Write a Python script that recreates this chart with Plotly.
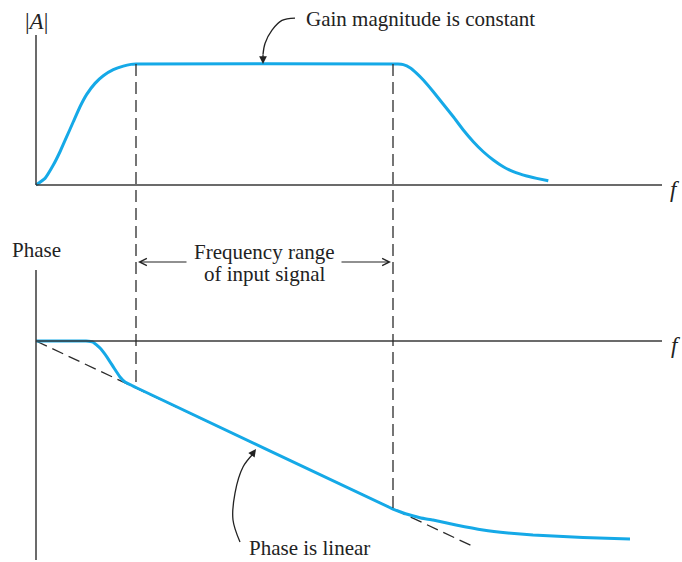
import plotly.graph_objects as go

# ---------------- data (arbitrary schematic units) ----------------
f_low = 1.0
f_high = 3.57

# magnitude response |A|
mag_f = [0.0, 0.09, 0.173, 0.24, 0.307, 0.373, 0.44, 0.507, 0.59, 0.673, 0.773, 0.873, 0.95, 1.0,
         3.62, 3.673, 3.74, 3.807, 3.873, 3.973, 4.073, 4.173, 4.273, 4.373, 4.473, 4.573,
         4.673, 4.773, 4.907, 5.007, 5.123]
mag_v = [0.0, 0.055, 0.165, 0.275, 0.399, 0.523, 0.647, 0.749, 0.840, 0.903, 0.953, 0.983, 0.997, 1.0,
         1.0, 0.995, 0.970, 0.923, 0.868, 0.771, 0.667, 0.564, 0.455, 0.358, 0.275, 0.207,
         0.151, 0.110, 0.074, 0.055, 0.035]

# phase response
ph_f = [0.0, 0.30, 0.50, 0.57, 0.64, 0.71, 0.78, 0.84, 0.89, 0.95, 1.01, 3.57, 3.66, 3.74, 3.85,
        3.97, 4.2, 4.47, 4.72, 4.97, 5.47, 5.94]
ph_v = [0.0, 0.0, 0.0, -0.01, -0.07, -0.16, -0.27, -0.36, -0.41, -0.44, -0.47, -1.68, -1.715, -1.74,
        -1.77, -1.79, -1.84, -1.89, -1.92, -1.94, -1.965, -1.98]

# ideal linear phase (dashed)
lin_f = [0.0, 4.37]
lin_slope = -0.47

# axis extents
x_range = [-0.36, 6.46]
mag_range = [-0.372, 1.529]
ph_range = [-2.21, 1.11]
top_domain = [0.5907, 1.0]
bot_domain = [0.0, 0.5907]

CURVE = "#15A9E7"
AX = "#3a3a3a"
DASH = "#2b2b2b"
TXT = "#222"
FONT = "Liberation Serif, DejaVu Serif, serif"
FS = 21


def paper_y(v, rng, dom):
    return dom[0] + (v - rng[0]) / (rng[1] - rng[0]) * (dom[1] - dom[0])


def ph_at(f):
    return lin_slope * f


fig = go.Figure()

fig.add_trace(go.Scatter(x=mag_f, y=mag_v, mode="lines", xaxis="x", yaxis="y",
                         line=dict(color=CURVE, width=3, shape="spline", smoothing=0.3),
                         hoverinfo="skip", showlegend=False))
fig.add_trace(go.Scatter(x=lin_f, y=[lin_slope * v for v in lin_f], mode="lines",
                         xaxis="x", yaxis="y2",
                         line=dict(color=DASH, width=1.3, dash="12px,6px"),
                         hoverinfo="skip", showlegend=False))
fig.add_trace(go.Scatter(x=ph_f, y=ph_v, mode="lines", xaxis="x", yaxis="y2",
                         line=dict(color=CURVE, width=3, shape="spline", smoothing=0.3),
                         hoverinfo="skip", showlegend=False))

# curved leader lines
gain_arrow_f = [2.59, 2.46, 2.36, 2.29, 2.27]
gain_arrow_m = [1.38, 1.36, 1.28, 1.17, 1.08]
fig.add_trace(go.Scatter(x=gain_arrow_f, y=gain_arrow_m, mode="lines", xaxis="x", yaxis="y",
                         line=dict(color=TXT, width=1.3, shape="spline"),
                         hoverinfo="skip", showlegend=False))
phase_arrow_f = [2.04, 1.97, 1.99, 2.07, 2.17]
phase_arrow_p = [-2.01, -1.79, -1.52, -1.26, -1.13]
fig.add_trace(go.Scatter(x=phase_arrow_f, y=phase_arrow_p, mode="lines", xaxis="x", yaxis="y2",
                         line=dict(color=TXT, width=1.3, shape="spline"),
                         hoverinfo="skip", showlegend=False))

shapes = []
shapes.append(dict(type="line", xref="x", yref="y", x0=0, x1=0, y0=0, y1=1.24,
                   line=dict(color=AX, width=1.5)))
shapes.append(dict(type="line", xref="x", yref="y", x0=0, x1=6.26, y0=0, y1=0,
                   line=dict(color=AX, width=1.5)))
shapes.append(dict(type="line", xref="x", yref="y2", x0=0, x1=0, y0=0.71, y1=-2.19,
                   line=dict(color=AX, width=1.5)))
shapes.append(dict(type="line", xref="x", yref="y2", x0=0, x1=6.26, y0=0, y1=0,
                   line=dict(color=AX, width=1.5)))
top_y = paper_y(1.0, mag_range, top_domain)
for fe in (f_low, f_high):
    shapes.append(dict(type="line", xref="x", yref="paper", x0=fe, x1=fe,
                       y0=top_y, y1=paper_y(ph_at(fe), ph_range, bot_domain),
                       line=dict(color=DASH, width=1.3, dash="12px,6px")))

annotations = []
annotations.append(dict(x=0, y=1.355, xref="x", yref="y", text="|<i>A</i>|", showarrow=False,
                        font=dict(family=FONT, size=23, color=TXT)))
annotations.append(dict(x=6.39, y=-0.035, xref="x", yref="y", text="<i>f</i>", showarrow=False,
                        font=dict(family=FONT, size=23, color=TXT)))
annotations.append(dict(x=0, y=0.91, xref="x", yref="y2", text="Phase", showarrow=False,
                        font=dict(family=FONT, size=FS, color=TXT)))
annotations.append(dict(x=6.40, y=-0.045, xref="x", yref="y2", text="<i>f</i>", showarrow=False,
                        font=dict(family=FONT, size=23, color=TXT)))
annotations.append(dict(x=2.68, y=1.37, xref="x", yref="y", text="Gain magnitude is constant",
                        showarrow=False, xanchor="left",
                        font=dict(family=FONT, size=FS, color=TXT)))
annotations.append(dict(x=2.27, y=1.0, ax=2.27, ay=1.09, xref="x", yref="y", axref="x", ayref="y",
                        text="", showarrow=True, arrowhead=2, arrowsize=1.2, arrowwidth=1.3,
                        arrowcolor=TXT))
annotations.append(dict(x=2.28, y=0.89, xref="x", yref="y2", text="Frequency range",
                        showarrow=False, font=dict(family=FONT, size=FS, color=TXT)))
annotations.append(dict(x=2.28, y=0.67, xref="x", yref="y2", text="of input signal",
                        showarrow=False, font=dict(family=FONT, size=FS, color=TXT)))
annotations.append(dict(x=f_low + 0.02, y=0.79, ax=1.52, ay=0.79, xref="x", yref="y2",
                        axref="x", ayref="y2", text="", showarrow=True, arrowhead=5,
                        arrowsize=1.3, arrowwidth=1.1, arrowcolor=TXT))
annotations.append(dict(x=f_high - 0.02, y=0.79, ax=3.04, ay=0.79, xref="x", yref="y2",
                        axref="x", ayref="y2", text="", showarrow=True, arrowhead=5,
                        arrowsize=1.3, arrowwidth=1.1, arrowcolor=TXT))
annotations.append(dict(x=2.11, y=-2.07, xref="x", yref="y2", text="Phase is linear",
                        showarrow=False, xanchor="left",
                        font=dict(family=FONT, size=FS, color=TXT)))
annotations.append(dict(x=2.20, y=-1.08, ax=2.15, ay=-1.15, xref="x", yref="y2",
                        axref="x", ayref="y2", text="", showarrow=True, arrowhead=2,
                        arrowsize=1.2, arrowwidth=1.3, arrowcolor=TXT))

fig.update_layout(
    width=682, height=562,
    margin=dict(l=0, r=0, t=0, b=0),
    paper_bgcolor="white", plot_bgcolor="white",
    xaxis=dict(range=x_range, domain=[0, 1], visible=False, fixedrange=True),
    yaxis=dict(range=mag_range, domain=top_domain, visible=False, fixedrange=True),
    yaxis2=dict(range=ph_range, domain=bot_domain, visible=False, fixedrange=True),
    shapes=shapes, annotations=annotations, showlegend=False,
)

fig.write_html(
    "out.html",
    config={"displayModeBar": False, "staticPlot": True},
    post_script="document.body.style.margin='0';document.documentElement.style.overflow='hidden';",
)
